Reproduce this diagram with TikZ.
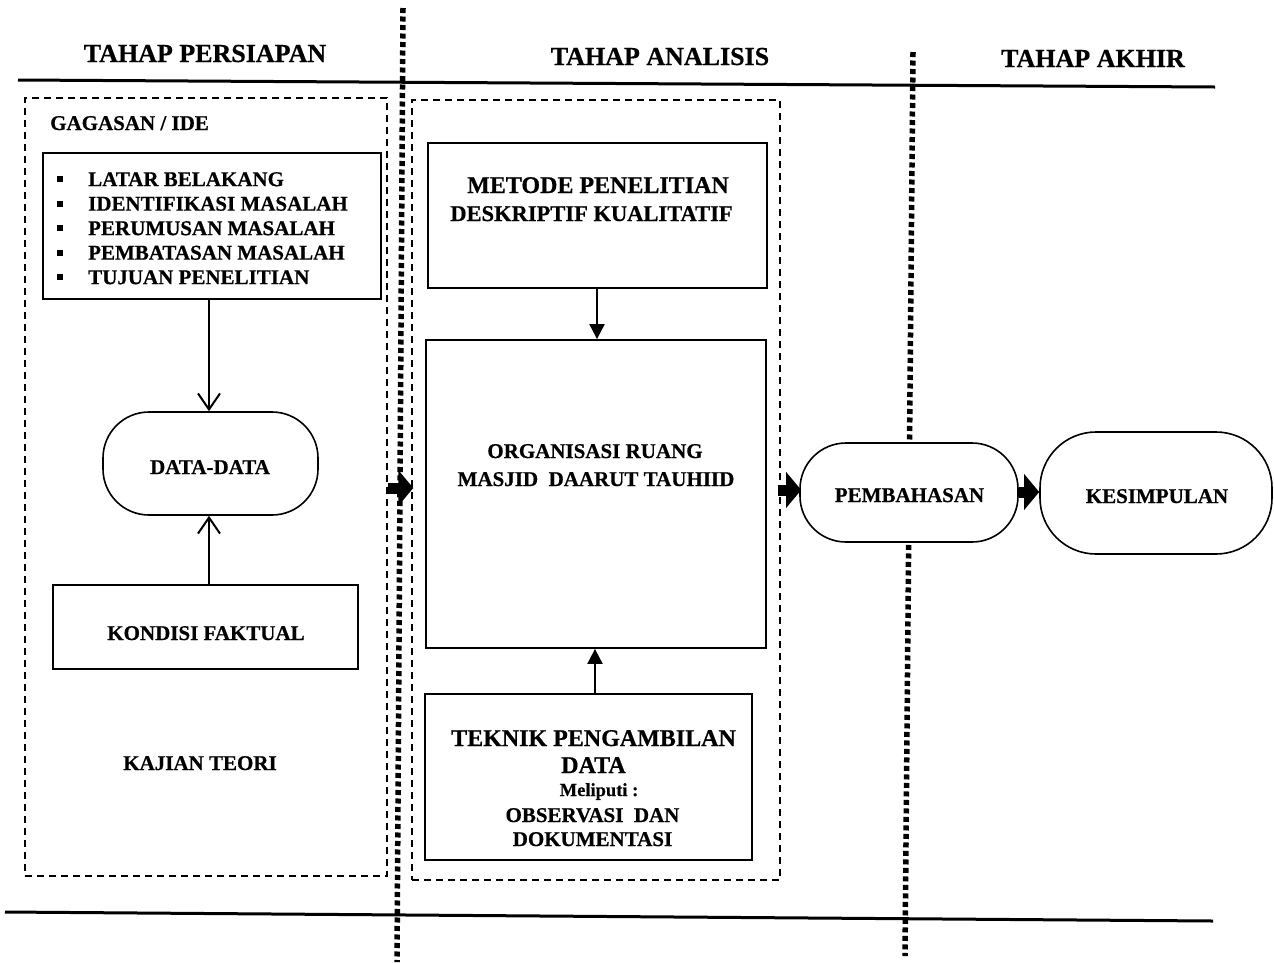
\documentclass[tikz,border=0pt]{standalone}
\usepackage{fontspec}
\setmainfont{Liberation Serif}[BoldFeatures={FakeBold=0.6}]
\usetikzlibrary{arrows.meta}
\newcommand{\mybul}{\rule[4pt]{6pt}{6pt}\hspace{25pt}}
\begin{document}
\begin{tikzpicture}[x=1pt,y=-1pt,
  hdr/.style={font=\bfseries\fontsize{26}{30}\selectfont, anchor=base, inner sep=0pt},
  txt/.style={font=\bfseries\fontsize{21}{24.5}\selectfont, anchor=base, inner sep=0pt},
  bigtxt/.style={font=\bfseries\fontsize{24}{28}\selectfont, anchor=base, inner sep=0pt},
  box/.style={draw, line width=1.8pt, fill=white, inner sep=0pt},
  stadium/.style={draw, line width=1.6pt, fill=white, rounded corners=#1, inner sep=0pt},
  dashbox/.style={draw, line width=1.4pt, dash pattern=on 7pt off 5pt, inner sep=0pt},
  dotline/.style={line width=5.5pt, dash pattern=on 5pt off 3.5pt},
  rulel/.style={line width=3pt},
  openarrow/.style={line width=2pt, -{Straight Barb[length=16pt,width=22pt]}},
  solidarrow/.style={line width=2pt, -{Triangle[length=15pt,width=15pt]}},
  bigarrow/.style={line width=11pt, -{Triangle[length=15pt,width=35pt]}}
]
\useasboundingbox (0,0) rectangle (1274,962);

% horizontal rules
\coordinate (t1) at (18,80);
\coordinate (t2) at (1215,87);
\coordinate (b1) at (5,912);
\coordinate (b2) at (1213,921);
\draw[rulel] (t1) -- (t2);
\draw[rulel] (b1) -- (b2);

% dotted separators
\coordinate (d1a) at (403,8);
\coordinate (d1b) at (397,962);
\coordinate (d2a) at (913,52);
\coordinate (d2b) at (905,956);
\draw[dotline] (d1a) -- (d1b);
\draw[dotline] (d2a) -- (d2b);

% headers
\node[hdr] (h1) at (205,62) {TAHAP PERSIAPAN};
\node[hdr] (h2) at (660,65) {TAHAP ANALISIS};
\node[hdr] (h3) at (1093,67) {TAHAP AKHIR};

% dashed groups
\node[dashbox, minimum width=362pt, minimum height=778pt] (dash1) at (206,487) {};
\node[dashbox, minimum width=368pt, minimum height=780pt] (dash2) at (596,490) {};

% left column
\node[txt, anchor=base west] (gag) at (50,130) {GAGASAN / IDE};
\node[box, minimum width=338pt, minimum height=146pt] (latar) at (212,226) {};
\node[txt, anchor=north west, align=left] (list) at (57,172)
  {\mybul LATAR BELAKANG\\ \mybul IDENTIFIKASI MASALAH\\ \mybul PERUMUSAN MASALAH\\ \mybul PEMBATASAN MASALAH\\ \mybul TUJUAN PENELITIAN};
\node[stadium=46pt, minimum width=215pt, minimum height=103pt] (data) at (210.5,463.5) {};
\node[txt] (datat) at (210,474) {DATA-DATA};
\node[box, minimum width=305pt, minimum height=84pt] (kond) at (205.5,627) {};
\node[txt] (kondt) at (206,640) {KONDISI FAKTUAL};
\node[txt] (kaj) at (200,770) {KAJIAN TEORI};

\draw[openarrow] (latar.south -| 209,0) -- (data.north -| 209,0);
\draw[openarrow] (kond.north -| 209,0) -- (data.south -| 209,0);

% middle column
\node[box, minimum width=339pt, minimum height=145pt] (metode) at (597.5,215.5) {};
\node[bigtxt] (met1) at (598,193) {METODE PENELITIAN};
\node[txt, font=\bfseries\fontsize{22.5}{26}\selectfont] (met2) at (591.5,221) {DESKRIPTIF KUALITATIF};
\node[box, minimum width=340pt, minimum height=308pt] (org) at (596,494) {};
\node[txt] (org1) at (595,458) {ORGANISASI RUANG};
\node[txt] (org2) at (596,486) {MASJID\ \ DAARUT TAUHIID};
\node[box, minimum width=327pt, minimum height=166pt] (teknik) at (588.5,777) {};
\node[bigtxt] (tek1) at (593.5,746) {TEKNIK PENGAMBILAN};
\node[bigtxt] (tek2) at (593.5,773) {DATA};
\node[txt, font=\bfseries\fontsize{18.5}{22}\selectfont] (tek3) at (599,796) {Meliputi :};
\node[txt] (tek4) at (592.5,822) {OBSERVASI\ \ DAN};
\node[txt] (tek5) at (592.5,846) {DOKUMENTASI};

\draw[solidarrow] (metode.south -| 597,0) -- (org.north -| 597,0);
\draw[solidarrow] (teknik.north -| 595,0) -- (org.south -| 595,0);

% right column
\node[stadium=46pt, minimum width=218pt, minimum height=99pt] (pemb) at (909,492.5) {};
\node[txt] (pembt) at (909.5,502) {PEMBAHASAN};
\node[stadium=56pt, minimum width=232pt, minimum height=122pt] (kes) at (1156,493) {};
\node[txt] (kest) at (1157,503) {KESIMPULAN};

% big arrows
\draw[bigarrow] (dash1.east |- 0,488) -- ([xshift=2pt]dash2.west |- 0,488);
\draw[bigarrow] ([xshift=-3pt]dash2.east |- 0,490) -- ([xshift=2pt]pemb.west |- 0,490);
\draw[bigarrow] (pemb.east |- 0,492) -- (kes.west |- 0,492);
\end{tikzpicture}
\end{document}
